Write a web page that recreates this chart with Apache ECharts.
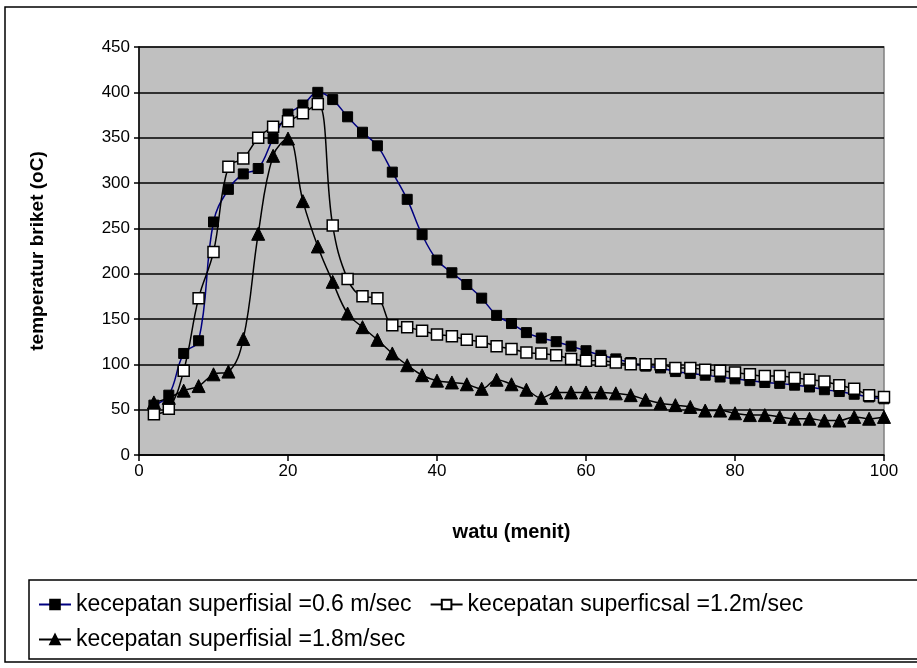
<!DOCTYPE html>
<html>
<head>
<meta charset="utf-8">
<script src="https://cdn.jsdelivr.net/npm/echarts@6/dist/echarts.min.js"></script>
<style>html,body{margin:0;padding:0;background:#fff}#c{width:917px;height:668px}</style>
</head>
<body>
<div id="c"></div>
<script>
const xValues = [2,4,6,8,10,12,14,16,18,20,22,24,26,28,30,32,34,36,38,40,42,44,46,48,50,52,54,56,58,60,62,64,66,68,70,72,74,76,78,80,82,84,86,88,90,92,94,96,98,100];
const v06 = [55,66,112,126,257,293,310,316,349,376,386,400,392,373,356,341,312,282,243,215,201,188,173,154,145,135,129,125,120,115,110,106,102,98,96,92,90,88,86,84,82,80,79,77,75,72,70,67,64,62];
const v12 = [45,51,93,173,224,318,327,350,362,368,377,387,253,194,175,173,143,141,137,133,131,127,125,120,117,113,112,110,106,104,104,102,100,100,100,96,96,94,93,91,89,87,87,85,83,81,77,73,66,64];
const v18 = [58,63,71,76,89,92,128,244,330,349,280,230,191,156,141,127,112,99,88,82,80,78,73,83,78,72,63,69,69,69,69,68,66,61,57,55,53,49,49,46,44,44,42,40,40,38,38,42,40,42];
const names = ['kecepatan superfisial =0.6 m/sec','kecepatan superficsal =1.2m/sec','kecepatan superfisial =1.8m/sec'];
const xTicks = {min:0,max:100,interval:20};
const yTicks = {min:0,max:450,interval:50};

const pair = (vals) => xValues.map((x,i)=>[x,vals[i]]);
const FONT = 'Liberation Sans, Arial, sans-serif';
const legText = {fontSize:23,fontFamily:FONT,color:'#000'};

const chart = echarts.init(document.getElementById('c'));
chart.setOption({
  animation:false,
  backgroundColor:'#fff',
  textStyle:{fontFamily:FONT,color:'#000'},
  graphic:[
    {type:'rect',z:-10,shape:{x:5,y:7,width:930,height:655},style:{fill:'#fff',stroke:'#000',lineWidth:1.5}},
    {type:'rect',z:-5,shape:{x:29,y:580,width:900,height:79},style:{fill:'#fff',stroke:'#000',lineWidth:1.5}}
  ],
  grid:{left:139,right:33,top:47,bottom:213,show:true,backgroundColor:'#C0C0C0',borderColor:'#808080',borderWidth:1.5},
  legend:[
    {data:[names[0],names[1]],left:33,top:588,itemWidth:32,itemHeight:12,itemGap:18,textStyle:legText},
    {data:[names[2]],left:33,top:623,itemWidth:32,itemHeight:12,textStyle:legText}
  ],
  xAxis:{type:'value',min:xTicks.min,max:xTicks.max,interval:xTicks.interval,
    name:'watu (menit)',nameLocation:'middle',nameGap:67,
    nameTextStyle:{fontSize:20,fontWeight:'bold',fontFamily:FONT,color:'#000'},
    axisLine:{lineStyle:{color:'#000',width:1.5}},
    axisTick:{show:true,length:6,lineStyle:{color:'#000',width:1.5}},
    axisLabel:{fontSize:17,color:'#000',margin:8,fontFamily:FONT},
    splitLine:{show:false}},
  yAxis:{type:'value',min:yTicks.min,max:yTicks.max,interval:yTicks.interval,
    name:'temperatur briket (oC)',nameLocation:'middle',nameGap:92,
    nameTextStyle:{fontSize:19,fontWeight:'bold',fontFamily:FONT,color:'#000'},
    axisLine:{show:true,lineStyle:{color:'#000',width:1.5}},
    axisTick:{show:true,length:5,lineStyle:{color:'#000',width:1.5}},
    axisLabel:{fontSize:17,color:'#000',margin:9,fontFamily:FONT},
    splitLine:{show:true,lineStyle:{color:'#000',width:1.5}}},
  series:[
    {name:names[0],type:'line',data:pair(v06),smooth:0.4,symbol:'rect',symbolSize:10,
     lineStyle:{color:'#000080',width:1.5},itemStyle:{color:'#000',borderColor:'#000',borderWidth:1}},
    {name:names[1],type:'line',data:pair(v12),smooth:0.4,symbol:'rect',symbolSize:11,
     lineStyle:{color:'#000',width:1.5},itemStyle:{color:'#fff',borderColor:'#000',borderWidth:1.5}},
    {name:names[2],type:'line',data:pair(v18),smooth:0.4,symbol:'triangle',symbolSize:13,
     lineStyle:{color:'#000',width:1.5},itemStyle:{color:'#000',borderColor:'#000',borderWidth:1}}
  ]
});
</script>
</body>
</html>
